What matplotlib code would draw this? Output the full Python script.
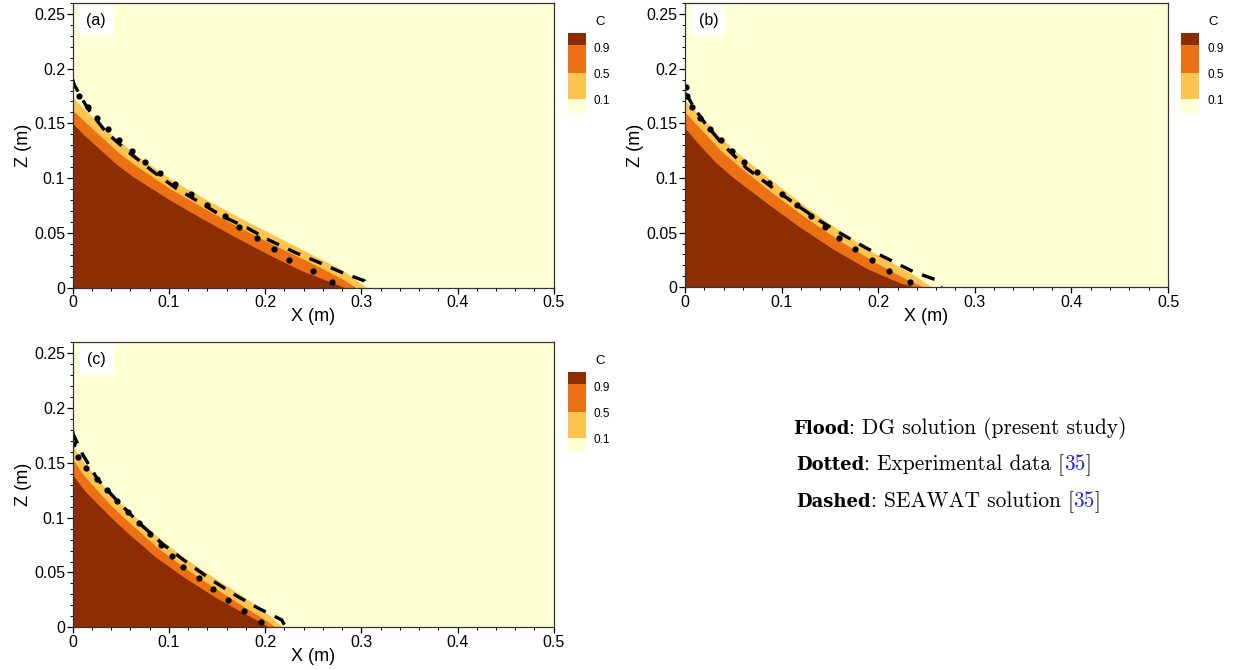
import numpy as np
import matplotlib
matplotlib.use("Agg")
import matplotlib.pyplot as plt
from matplotlib.ticker import MultipleLocator, FixedLocator, FixedFormatter
from matplotlib.offsetbox import TextArea, HPacker, AnnotationBbox
from matplotlib.patches import Rectangle

# ---------------- data ----------------
# Panel (a)
a_c01_x = [0, 0.012, 0.0306, 0.048, 0.0662, 0.1019, 0.1375, 0.1732, 0.2088, 0.2445, 0.2801, 0.3056]
a_c01_z = [0.174, 0.163, 0.148, 0.134, 0.121, 0.099, 0.081, 0.064, 0.048, 0.032, 0.016, 0]
a_c05_x = [0, 0.012, 0.0306, 0.048, 0.0662, 0.1019, 0.1375, 0.1732, 0.2088, 0.2445, 0.2801, 0.2944]
a_c05_z = [0.162, 0.152, 0.137, 0.123, 0.111, 0.090, 0.072, 0.055, 0.039, 0.024, 0.008, 0]
a_c09_x = [0, 0.011, 0.0285, 0.045, 0.0632, 0.1008, 0.1324, 0.1671, 0.2017, 0.2363, 0.271, 0.2822]
a_c09_z = [0.150, 0.140, 0.126, 0.113, 0.101, 0.080, 0.064, 0.047, 0.031, 0.016, 0.004, 0]
a_exp_x = [0.0068, 0.0162, 0.0256, 0.0370, 0.0485, 0.0613, 0.0755, 0.0908, 0.1064,
           0.1227, 0.1399, 0.1583, 0.1732, 0.1915, 0.2092, 0.2245, 0.2501, 0.2699]
a_exp_z = [0.175, 0.165, 0.155, 0.145, 0.135, 0.125, 0.115, 0.105, 0.095,
           0.085, 0.075, 0.065, 0.055, 0.045, 0.035, 0.025, 0.015, 0.005]
a_sw_x = [0, 0.0017, 0.0153, 0.0346, 0.0591, 0.0835, 0.107, 0.1334, 0.1559, 0.1813,
          0.2048, 0.2312, 0.2557, 0.2801, 0.3036, 0.3076]
a_sw_z = [0.19, 0.185, 0.164, 0.142, 0.123, 0.106, 0.091, 0.077, 0.065, 0.0545,
          0.043, 0.032, 0.023, 0.0136, 0.006, 0]

# Panel (b)
b_c01_x = [0, 0.0202, 0.037, 0.0554, 0.0907, 0.126, 0.1613, 0.1966, 0.2318, 0.256]
b_c01_z = [0.171, 0.153, 0.137, 0.122, 0.097, 0.073, 0.051, 0.031, 0.014, 0]
b_c05_x = [0, 0.0202, 0.037, 0.0554, 0.0907, 0.126, 0.1613, 0.1966, 0.2298, 0.248]
b_c05_z = [0.160, 0.141, 0.125, 0.111, 0.086, 0.063, 0.042, 0.023, 0.007, 0]
b_c09_x = [0, 0.0151, 0.032, 0.0504, 0.0847, 0.1189, 0.1532, 0.1885, 0.2228, 0.2389]
b_c09_z = [0.1455, 0.130, 0.114, 0.100, 0.077, 0.055, 0.035, 0.017, 0.004, 0]
b_exp_x = [0.001, 0.0024, 0.007, 0.0155, 0.0259, 0.037, 0.0484, 0.0611, 0.0742, 0.0873,
           0.1001, 0.1156, 0.1304, 0.1453, 0.1598, 0.1763, 0.1932, 0.2115, 0.2332]
b_exp_z = [0.183, 0.175, 0.165, 0.155, 0.145, 0.135, 0.125, 0.115, 0.105, 0.095,
           0.085, 0.075, 0.065, 0.055, 0.045, 0.035, 0.025, 0.015, 0.005]
b_sw_x = [0, 0.005, 0.0087, 0.0207, 0.038, 0.0638, 0.0914, 0.1156, 0.1391, 0.1638,
          0.1881, 0.2122, 0.2363, 0.2601, 0.2656]
b_sw_z = [0.1775, 0.171, 0.165, 0.150, 0.1317, 0.1089, 0.0906, 0.0753, 0.061, 0.0479,
          0.0357, 0.025, 0.0143, 0.0067, 0]

# Panel (c)
c_c01_x = [0, 0.012, 0.0254, 0.04, 0.0559, 0.0863, 0.1168, 0.1473, 0.1777, 0.2031, 0.2184]
c_c01_z = [0.165, 0.150, 0.136, 0.121, 0.108, 0.084, 0.063, 0.045, 0.028, 0.012, 0]
c_c05_x = [0, 0.012, 0.0254, 0.04, 0.0559, 0.0863, 0.1168, 0.1473, 0.1777, 0.198, 0.2112]
c_c05_z = [0.153, 0.138, 0.125, 0.111, 0.098, 0.074, 0.054, 0.036, 0.019, 0.008, 0]
c_c09_x = [0, 0.012, 0.0254, 0.04, 0.0559, 0.0863, 0.1168, 0.1473, 0.1777, 0.193, 0.2041]
c_c09_z = [0.139, 0.125, 0.113, 0.100, 0.087, 0.064, 0.045, 0.028, 0.013, 0.006, 0]
c_exp_x = [0, 0.0058, 0.0137, 0.0249, 0.0353, 0.0463, 0.0578, 0.0692, 0.0803,
           0.0914, 0.1029, 0.115, 0.131, 0.1462, 0.1618, 0.1784, 0.1958]
c_exp_z = [0.167, 0.155, 0.145, 0.135, 0.125, 0.115, 0.105, 0.095, 0.085,
           0.075, 0.065, 0.055, 0.045, 0.035, 0.025, 0.015, 0.005]
c_sw_x = [0, 0.0006, 0.0104, 0.026, 0.0467, 0.0691, 0.0934, 0.1198, 0.1442, 0.1686,
          0.193, 0.2173, 0.2214]
c_sw_z = [0.179, 0.176, 0.1576, 0.1348, 0.115, 0.0951, 0.076, 0.0585, 0.0433, 0.0296,
          0.0174, 0.0067, 0]

x_ticks = [0, 0.1, 0.2, 0.3, 0.4, 0.5]
x_tick_labels = ["0", "0.1", "0.2", "0.3", "0.4", "0.5"]
z_ticks = [0, 0.05, 0.1, 0.15, 0.2, 0.25]
z_tick_labels = ["0", "0.05", "0.1", "0.15", "0.2", "0.25"]
legend_levels = ["0.9", "0.5", "0.1"]
panel_tags = ["(a)", "(b)", "(c)"]

# ---------------- style ----------------
PALE = "#ffffd4"
LIGHT = "#fec450"
ORANGE = "#ec7014"
BROWN = "#8c2d04"
SANS = ["Liberation Sans", "DejaVu Sans"]

W, H = 1236, 670
fig = plt.figure(figsize=(W / 100, H / 100), dpi=100)
fig.patch.set_facecolor("white")


def px_axes(l, t, r, b, **kw):
    return fig.add_axes([l / W, 1 - b / H, (r - l) / W, (b - t) / H], **kw)


def panel(box, c01, c05, c09, exp, sw, tag):
    l, t, r, b = box
    ax = px_axes(l, t, r, b)
    ax.set_facecolor(PALE)
    ax.fill_between(c01[0], 0, c01[1], color=LIGHT, lw=0)
    ax.fill_between(c05[0], 0, c05[1], color=ORANGE, lw=0)
    ax.fill_between(c09[0], 0, c09[1], color=BROWN, lw=0)
    ax.plot(sw[0], sw[1], color="black", lw=2.4, dashes=(4.0, 3.0),
            solid_capstyle="butt", dash_capstyle="butt")
    ax.plot(exp[0], exp[1], "o", color="black", ms=4.5, mec="black", mew=0)
    ax.set_xlim(0, 0.5)
    ax.set_ylim(0, 0.26)
    ax.xaxis.set_major_locator(FixedLocator(x_ticks))
    ax.xaxis.set_major_formatter(FixedFormatter(x_tick_labels))
    ax.yaxis.set_major_locator(FixedLocator(z_ticks))
    ax.yaxis.set_major_formatter(FixedFormatter(z_tick_labels))
    ax.xaxis.set_minor_locator(MultipleLocator(0.02))
    ax.yaxis.set_minor_locator(MultipleLocator(0.01))
    ax.tick_params(which="major", direction="out", length=4, width=0.9,
                   labelsize=11.5, pad=1.5, top=False, right=False)
    ax.tick_params(which="minor", direction="out", length=2.2, width=0.7,
                   top=False, right=False)
    for lab in ax.get_xticklabels() + ax.get_yticklabels():
        lab.set_fontfamily(SANS)
    for s in ax.spines.values():
        s.set_linewidth(0.9)
        s.set_color("#333333")
    # labels
    fig.text((l + r) / 2 / W, 1 - (b + 29) / H, "X (m)", ha="center", va="center",
             fontsize=13, family=SANS)
    fig.text((l - 49) / W, 1 - ((t + b) / 2) / H, "Z (m)", ha="center", va="center",
             rotation=90, fontsize=13, family=SANS)
    fig.text((l + 23.5) / W, 1 - (t + 17) / H, tag, ha="center", va="center",
             fontsize=11.5, family=SANS,
             bbox=dict(boxstyle="square,pad=0.5", facecolor="white", edgecolor="none"))
    return ax


def legend(x0, top):
    # colour column
    heights = [12, 28, 26, 14]
    colors = [BROWN, ORANGE, LIGHT, PALE]
    y = top
    for hgt, col in zip(heights, colors):
        fig.patches.append(Rectangle((x0 / W, 1 - (y + hgt) / H), 18 / W, hgt / H,
                                     transform=fig.transFigure, facecolor=col,
                                     edgecolor="none", figure=fig))
        y += hgt
    fig.text((x0 + 32) / W, 1 - (top - 11) / H, "C", ha="center", va="center",
             fontsize=9.5, family=SANS)
    offs = [16, 42, 68]
    for lab, o in zip(legend_levels, offs):
        fig.text((x0 + 26) / W, 1 - (top + o) / H, lab, ha="left", va="center",
                 fontsize=8.5, family=SANS)


panel((72.7, 3, 553.7, 287.5), (a_c01_x, a_c01_z), (a_c05_x, a_c05_z),
      (a_c09_x, a_c09_z), (a_exp_x, a_exp_z), (a_sw_x, a_sw_z), panel_tags[0])
panel((685, 3, 1168, 287.3), (b_c01_x, b_c01_z), (b_c05_x, b_c05_z),
      (b_c09_x, b_c09_z), (b_exp_x, b_exp_z), (b_sw_x, b_sw_z), panel_tags[1])
panel((72.7, 342.3, 553.7, 627.3), (c_c01_x, c_c01_z), (c_c05_x, c_c05_z),
      (c_c09_x, c_c09_z), (c_exp_x, c_exp_z), (c_sw_x, c_sw_z), panel_tags[2])

legend(568, 33)
legend(1181, 33)
legend(568, 372)

# ---------------- caption block ----------------
SERIF = dict(family=["cmr10", "DejaVu Serif"], fontsize=15.4)
BOLD = dict(family=["DejaVu Serif"], fontweight="bold", fontsize=13)


def caption_line(x, y, pieces):
    children = []
    for txt, props, col in pieces:
        tp = dict(props)
        tp["color"] = col
        children.append(TextArea(txt, textprops=tp))
    box = HPacker(children=children, align="baseline", pad=0, sep=0)
    ab = AnnotationBbox(box, (x, H - y), xycoords="figure pixels",
                        box_alignment=(0, 0.5), frameon=False, pad=0)
    fig.add_artist(ab)


caption_line(793, 428, [("Flood", BOLD, "black"),
                        (": DG solution (present study)", SERIF, "black")])
caption_line(796, 465, [("Dotted", BOLD, "black"),
                        (": Experimental data [", SERIF, "black"),
                        ("35", SERIF, "#2222ee"),
                        ("]", SERIF, "black")])
caption_line(796, 502, [("Dashed", BOLD, "black"),
                        (": SEAWAT solution [", SERIF, "black"),
                        ("35", SERIF, "#2222ee"),
                        ("]", SERIF, "black")])

fig.savefig("out.png", dpi=100)
